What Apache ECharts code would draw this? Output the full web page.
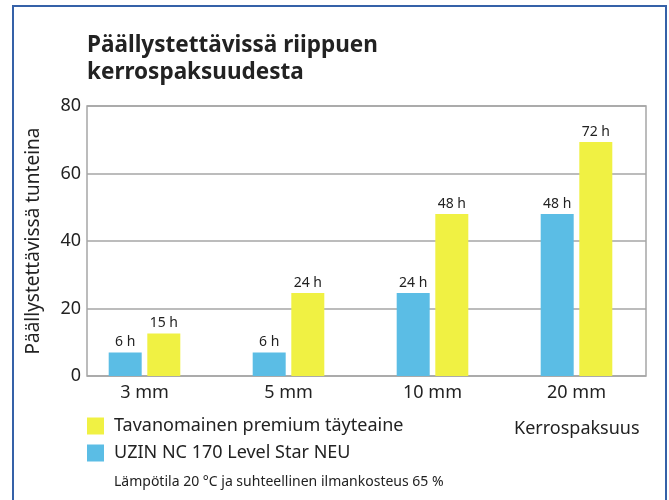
<!DOCTYPE html>
<html>
<head>
<meta charset="utf-8">
<script src="https://cdn.jsdelivr.net/npm/echarts@6/dist/echarts.min.js"></script>
<style>
  html, body { margin: 0; padding: 0; background: #fff; }
  #chart { width: 669px; height: 500px; }
</style>
</head>
<body>
<div id="chart"></div>
<script>
// data
var categories = ['3 mm', '5 mm', '10 mm', '20 mm'];
var uzinValues = [7, 7, 24.6, 48];
var uzinLabels = ['6 h', '6 h', '24 h', '48 h'];
var premiumValues = [12.6, 24.6, 48, 69.3];
var premiumLabels = ['15 h', '24 h', '48 h', '72 h'];
var yTicks = [0, 20, 40, 60, 80];

var uzinName = 'UZIN NC 170 Level Star NEU';
var premiumName = 'Tavanomainen premium täyteaine';

var FONT = '"Noto Sans", sans-serif';
var TXT = '#222';

var chart = echarts.init(document.getElementById('chart'));

var option = {
    backgroundColor: '#fff',
    animation: false,
    textStyle: { fontFamily: FONT },
    title: [
        {
            text: 'Päällystettävissä riippuen\nkerrospaksuudesta',
            left: 82, top: 27,
            textStyle: { fontFamily: FONT, fontSize: 22.5, fontWeight: 'bold', lineHeight: 27, color: TXT }
        },
        {
            text: 'Kerrospaksuus',
            left: 509, top: 415,
            textStyle: { fontFamily: FONT, fontSize: 18, fontWeight: 'normal', color: TXT }
        },
        {
            text: 'Lämpötila 20 °C ja suhteellinen ilmankosteus 65 %',
            left: 109, top: 470,
            textStyle: { fontFamily: FONT, fontSize: 14, fontWeight: 'normal', color: TXT }
        }
    ],
    legend: {
        data: [premiumName, uzinName],
        orient: 'vertical',
        left: 87, top: 417,
        padding: 0,
        icon: 'rect',
        itemWidth: 17, itemHeight: 17,
        itemGap: 9,
        textStyle: { fontFamily: FONT, fontSize: 18, color: TXT, padding: [0, 0, 0, 5] }
    },
    graphic: [
        {
            type: 'rect',
            shape: { x: 13, y: 6, width: 653, height: 510 },
            style: { fill: null, stroke: '#3561a8', lineWidth: 2 },
            silent: true
        }
    ],
    grid: [
        // frame + y split lines
        { left: 87, right: 23, top: 106, bottom: 124, show: true, borderColor: '#a6a6a6', borderWidth: 1.5, backgroundColor: 'transparent' },
        // bars
        { left: 72.5, width: 576, top: 106, bottom: 124 }
    ],
    xAxis: [
        { gridIndex: 0, type: 'category', data: categories, show: false },
        {
            gridIndex: 1, type: 'category', data: categories,
            axisLine: { show: false }, axisTick: { show: false },
            axisLabel: { fontFamily: FONT, fontSize: 18, color: TXT, margin: 8 }
        }
    ],
    yAxis: [
        {
            gridIndex: 0, type: 'value', min: yTicks[0], max: yTicks[yTicks.length - 1], interval: 20,
            name: 'Päällystettävissä tunteina',
            nameLocation: 'middle', nameGap: 44,
            nameTextStyle: { fontFamily: FONT, fontSize: 19, color: TXT },
            axisLine: { show: false }, axisTick: { show: false },
            axisLabel: { fontFamily: FONT, fontSize: 18, color: TXT, margin: 6 },
            splitLine: { lineStyle: { color: '#a6a6a6', width: 1.5 } }
        },
        {
            gridIndex: 1, type: 'value', min: yTicks[0], max: yTicks[yTicks.length - 1], interval: 20,
            show: false, splitLine: { show: false }
        }
    ],
    series: [
        {
            name: uzinName, type: 'bar', xAxisIndex: 1, yAxisIndex: 1,
            data: uzinValues, barWidth: 33, barGap: '17%',
            itemStyle: { color: '#5bbde5' },
            label: {
                show: true, position: 'top', distance: 3,
                fontFamily: FONT, fontSize: 14, color: TXT,
                formatter: function (p) { return uzinLabels[p.dataIndex]; }
            }
        },
        {
            name: premiumName, type: 'bar', xAxisIndex: 1, yAxisIndex: 1,
            data: premiumValues, barWidth: 33,
            itemStyle: { color: '#f0f143' },
            label: {
                show: true, position: 'top', distance: 3,
                fontFamily: FONT, fontSize: 14, color: TXT,
                formatter: function (p) { return premiumLabels[p.dataIndex]; }
            }
        }
    ]
};

chart.setOption(option);
</script>
</body>
</html>
